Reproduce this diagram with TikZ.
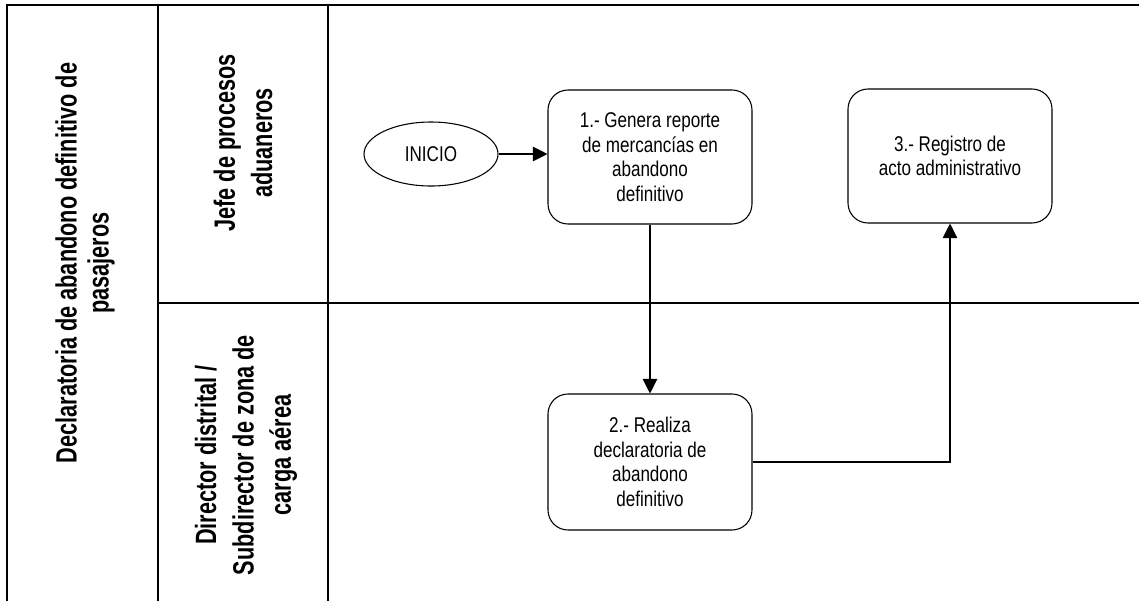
\documentclass[tikz,border=0pt]{standalone}
\usepackage{fontspec}
\setmainfont{Liberation Sans}[FakeStretch=0.8]
\newfontfamily\lanefont[FakeStretch=0.74]{Liberation Sans Bold}
\usetikzlibrary{arrows.meta,shapes.geometric}
\begin{document}
\begin{tikzpicture}[x=0.75pt,y=-0.75pt,
  lane/.style={line width=1.7pt},
  lanelabel/.style={rotate=90,align=center,font=\lanefont\fontsize{22}{28}\selectfont,inner sep=0pt},
  stepbox/.style={draw,line width=0.8pt,rounded corners=15pt,minimum width=153pt,align=center,font=\fontsize{16}{18.4}\selectfont,inner sep=0pt},
  startnode/.style={draw,ellipse,line width=0.8pt,minimum width=100.5pt,minimum height=48pt,inner sep=0pt,font=\fontsize{16}{18.4}\selectfont},
  flow/.style={line width=0.8pt,-{Triangle[length=11pt,width=11pt]}}]
\useasboundingbox (0,0) rectangle (1139,601);
% swimlane frame
\draw[lane] (7,601) -- (7,5) -- (1139,5);
\draw[lane] (158,5) -- (158,601);
\draw[lane] (328,5) -- (328,601);
\draw[lane] (158,303) -- (1139,303);
% lane labels
\node[lanelabel,font=\lanefont\fontsize{22}{24}\selectfont] (pool) at (85,263) {Declaratoria de abandono definitivo de\\pasajeros};
\node[lanelabel] (lane1) at (243,143) {Jefe de procesos\\aduaneros};
\node[lanelabel] (lane2) at (246,455) {Director distrital /\\Subdirector de zona de\\carga aérea};
% nodes
\node[startnode] (inicio) at (431,154) {INICIO};
\node[stepbox,minimum height=100.5pt] (b1) at (650,157) {1.- Genera reporte\\de mercancías en\\abandono\\definitivo};
\node[stepbox,minimum height=102pt] (b2) at (650,462) {2.- Realiza\\declaratoria de\\abandono\\definitivo};
\node[stepbox,minimum height=100.5pt] (b3) at (950,156) {3.- Registro de\\acto administrativo};
% connectors
\draw[flow] (inicio.east) -- (inicio.east -| b1.west);
\draw[flow] (b1.south) -- (b2.north);
\draw[flow] (b2.east) -| (b3.south);
\end{tikzpicture}
\end{document}
